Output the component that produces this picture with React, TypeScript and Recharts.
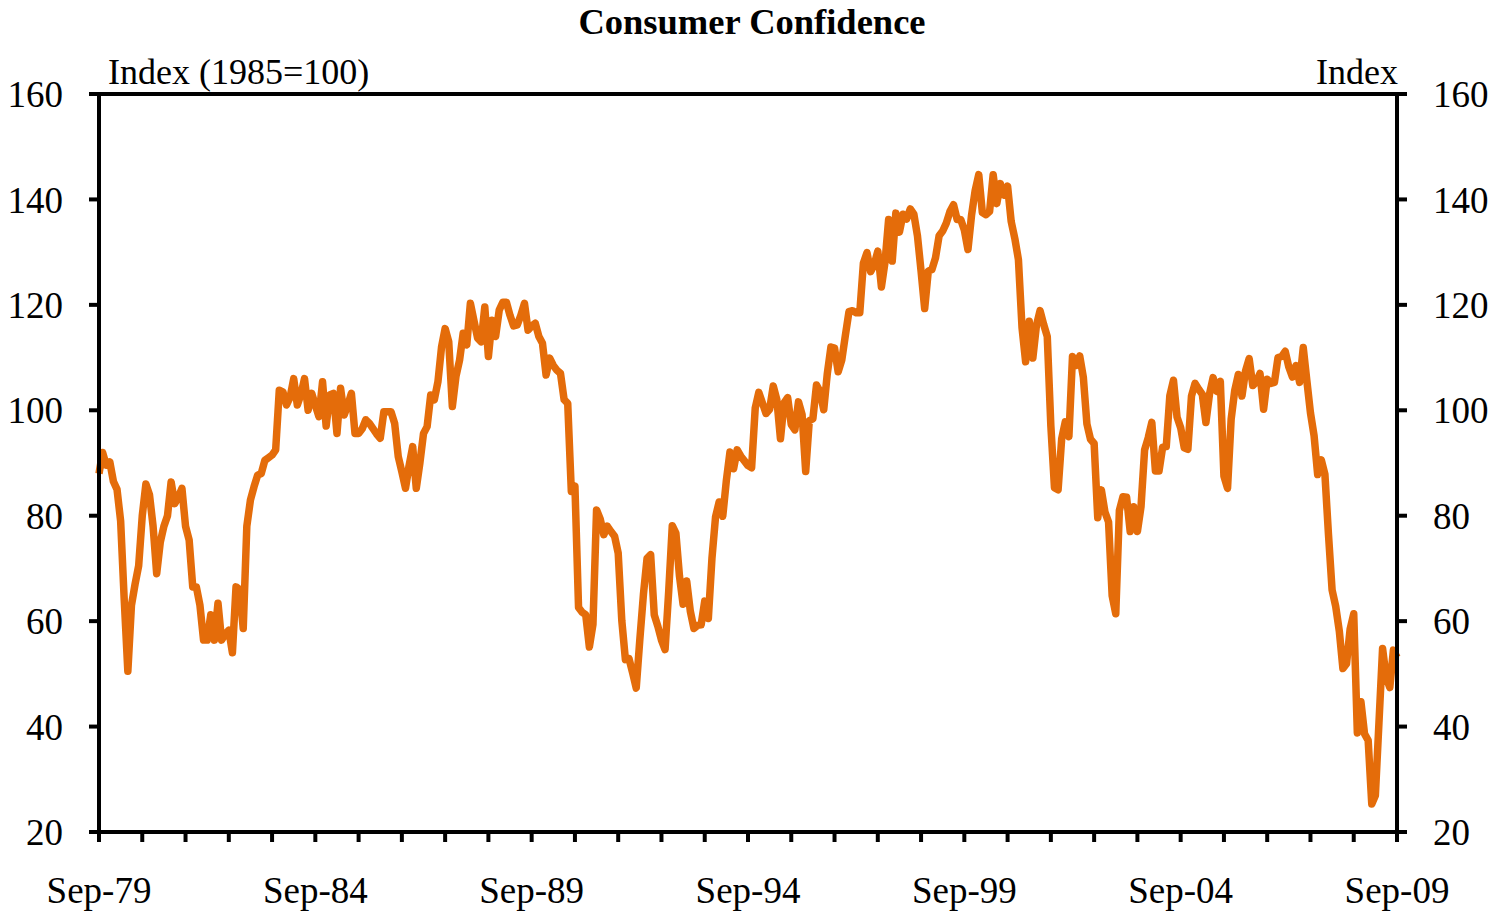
import { LineChart, Line, XAxis, YAxis, ReferenceLine } from 'recharts';

// Conference Board consumer confidence, monthly Sep-79 .. Sep-09 (each row = Sep..Aug)
const confidence = [
  88, 92, 89.6, 90.2, 86.5, 85, 79, 64, 50.5, 63, 67, 70.5,
  80, 86, 84, 78, 69, 75, 78, 80, 86.4, 82.3, 83.5, 85.2,
  78, 75.4, 66.5, 66.5, 63, 56.4, 56.4, 61.2, 56.4, 63.4, 56.4, 57.5,
  58.3, 54, 66.5, 66, 58.6, 78, 83, 85.5, 87.7, 88, 90.5, 91,
  91.5, 92.5, 103.8, 103.5, 101, 102.5, 106, 101, 103, 106, 100, 103.2,
  101, 98.8, 105.4, 97, 102.9, 103.2, 95.6, 104.2, 99.1, 101, 103.2, 95.6,
  95.6, 96.5, 98.2, 97.5, 96.5, 95.5, 94.7, 99.7, 99.7, 99.7, 97.5, 91.2,
  88.3, 85.2, 89.5, 93.1, 85.2, 90, 95.6, 96.9, 102.9, 102, 105.4, 112,
  115.5, 113, 100.7, 106.4, 109.5, 114.6, 112.4, 120.3, 117, 113.7, 113, 119.6,
  110.2, 117.1, 114, 119, 120.5, 120.5, 118, 116, 116.2, 118, 120.3, 115.2,
  116, 116.5, 114, 112.7, 106.7, 109.9, 108.5, 107.6, 107, 102, 101.3, 84.6,
  85.6, 62.6, 61.7, 61.2, 55.1, 59.4, 81.1, 79.4, 76.4, 78, 77, 76.1,
  72.9, 60.1, 52.7, 52.9, 50.2, 47.3, 56.5, 65.1, 71.9, 72.6, 61.2, 59,
  56.4, 54.6, 65.6, 78.1, 76.7, 68.5, 63.2, 67.6, 61.9, 58.6, 59.2, 59.3,
  63.8, 60.5, 71.9, 79.8, 82.6, 79.9, 86.7, 92.1, 88.9, 92.5, 91.3, 90.4,
  89.5, 89.1, 100.4, 103.4, 101.4, 99.4, 100.2, 104.6, 102, 94.6, 101.4, 102.4,
  97.3, 96.3, 101.6, 99.2, 88.4, 98, 98.4, 104.8, 103.5, 100.1, 107, 112,
  111.8, 107.3, 109.5, 114.2, 118.7, 118.9, 118.5, 118.5, 127.9, 129.9, 126.3, 127.6,
  130.2, 123.4, 128.1, 136.2, 128.3, 137.4, 133.8, 137.2, 136.3, 138.2, 137.2, 133.1,
  126.4, 119.3, 126.4, 126.7, 128.9, 133.1, 134, 135.5, 137.7, 139, 136.2, 136.2,
  134.2, 130.5, 137, 141.7, 144.7, 137.5, 137.1, 137.7, 144.7, 139.2, 143, 140.8,
  142.5, 135.8, 132.6, 128.6, 115.7, 109.2, 116.9, 109.9, 116.1, 118.9, 116.3, 114,
  97, 85.3, 84.9, 94.6, 97.8, 95, 110.2, 108.5, 110.3, 106.3, 97.4, 94.5,
  93.7, 79.6, 84.9, 80.7, 78.8, 64.8, 61.4, 81, 83.6, 83.5, 77, 81.7,
  77, 81.7, 92.5, 94.8, 97.7, 88.5, 88.5, 93, 93.1, 102.8, 105.7, 98.7,
  96.7, 92.9, 92.6, 102.7, 105.1, 104, 103, 97.7, 103.1, 106.2, 103.6, 105.5,
  87.5, 85.2, 98.3, 103.8, 106.8, 102.7, 107.5, 109.8, 104.7, 105.4, 107, 100.2,
  105.9, 105.1, 105.3, 110, 110.2, 111.2, 108.2, 106.3, 108.5, 105.3, 111.9, 105.6,
  99.5, 95.2, 87.8, 90.6, 87.9, 76.4, 65.9, 62.8, 58.1, 51, 51.9, 58.5,
  61.4, 38.8, 44.7, 38.6, 37.4, 25.3, 26.9, 40.8, 54.8, 49.3, 47.4, 54.5,
  53.1,
];

const xLabels = ['Sep-79', 'Sep-84', 'Sep-89', 'Sep-94', 'Sep-99', 'Sep-04', 'Sep-09'];
const yTicks = [20, 40, 60, 80, 100, 120, 140, 160];

const data = confidence.map((value, idx) => ({ idx, value }));
// a tick mark every year, a label every five years
const yearTicks = data.filter(d => d.idx % 12 === 0).map(d => d.idx);

const font = '"Liberation Serif", "Times New Roman", serif';
const tickStyle = { fill: '#000', fontSize: 37, fontFamily: font };
const axisStroke = { stroke: '#000', strokeWidth: 4 };

// yearly tick hanging below the axis, label only on the five-year marks
const YearTick = (props: any) => {
  const { x, y, payload } = props;
  const label = payload.value % 60 === 0 ? xLabels[payload.value / 60] : '';
  return (
    <g>
      <line x1={x} y1={y} x2={x} y2={y + 10} stroke="#000" strokeWidth={4} />
      {label && (
        <text x={x} y={y + 45} dy="0.71em" textAnchor="middle" fill="#000" fontSize={37} fontFamily={font}>
          {label}
        </text>
      )}
    </g>
  );
};

export default function App() {
  return (
    <div style={{ position: 'relative', width: 1488, height: 905, fontFamily: font }}>
      <div
        style={{
          position: 'absolute', left: 744, top: -4, transform: 'translateX(-50%)',
          fontSize: 36.5, fontWeight: 'bold', lineHeight: 1, whiteSpace: 'nowrap',
        }}
      >
        Consumer Confidence
      </div>
      <div style={{ position: 'absolute', left: 100, top: 46, fontSize: 36, lineHeight: 1, whiteSpace: 'nowrap' }}>
        Index (1985=100)
      </div>
      <div style={{ position: 'absolute', right: 98, top: 46, fontSize: 36, lineHeight: 1, whiteSpace: 'nowrap' }}>
        Index
      </div>

      <LineChart width={1488} height={905} data={data} margin={{ top: 86, right: 8, bottom: 0, left: 0 }}>
        <XAxis
          type="number"
          dataKey="idx"
          domain={[0, confidence.length - 1]}
          ticks={yearTicks}
          interval={0}
          tick={<YearTick />}
          tickSize={0}
          tickMargin={0}
          tickLine={false}
          height={81}
          axisLine={axisStroke}
        />
        <YAxis
          domain={[20, 160]}
          allowDataOverflow
          ticks={yTicks}
          interval={0}
          width={91}
          tick={tickStyle}
          tickSize={10}
          tickMargin={26}
          axisLine={axisStroke}
          tickLine={axisStroke}
        />
        <YAxis
          yAxisId="right"
          orientation="right"
          domain={[20, 160]}
          allowDataOverflow
          ticks={yTicks}
          interval={0}
          width={91}
          tick={tickStyle}
          tickSize={10}
          tickMargin={26}
          axisLine={axisStroke}
          tickLine={axisStroke}
        />
        <ReferenceLine y={160} stroke="#000" strokeWidth={4} />
        <Line
          type="linear"
          dataKey="value"
          stroke="#E46C0A"
          strokeWidth={7.5}
          strokeLinejoin="round"
          dot={false}
          activeDot={false}
          isAnimationActive={false}
        />
      </LineChart>
    </div>
  );
}
